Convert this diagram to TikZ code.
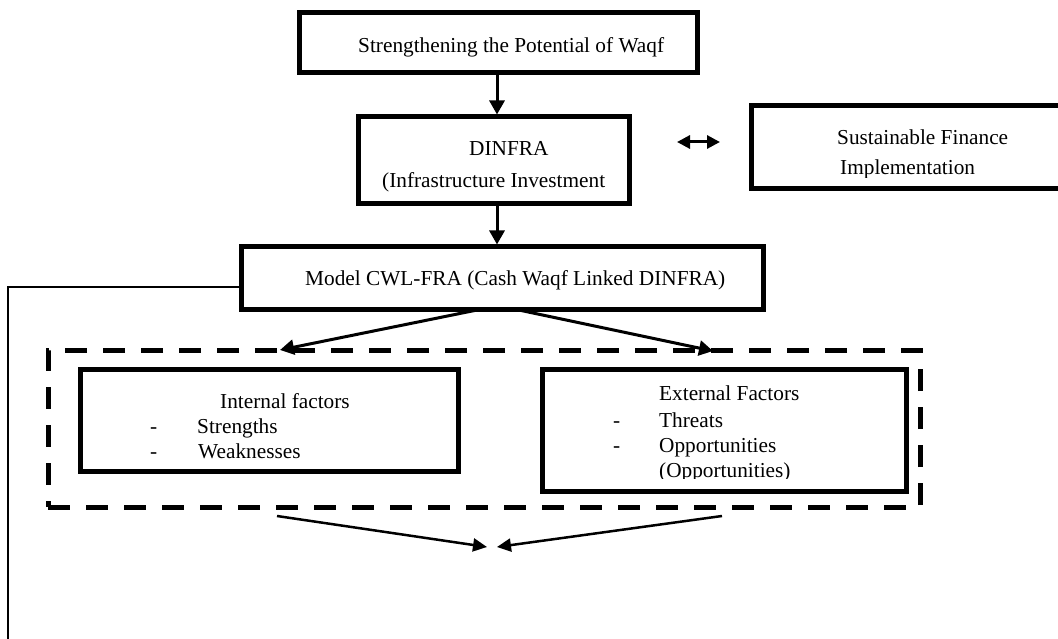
\documentclass[tikz,border=0pt]{standalone}
\usepackage{fontspec}
\setmainfont{Liberation Serif}
\usetikzlibrary{arrows.meta}
\begin{document}
\begin{tikzpicture}[x=1pt,y=-1pt,
  box/.style={draw,line width=5pt,inner sep=0pt,rectangle},
  lbl/.style={inner sep=0pt,anchor=base west,font=\fontsize{21.3}{25}\selectfont},
  arr/.style={line width=3pt,-{Triangle[length=14pt,width=15pt]}},
  thinarr/.style={line width=2.5pt,-{Triangle[length=14pt,width=13pt]}},
  grp/.style={draw,line width=5pt,dash pattern=on 22pt off 16pt,inner sep=0pt,rectangle}]
\useasboundingbox (0,0) rectangle (1058,639);
\clip (0,0) rectangle (1058,639);
% boxes
\node[box,minimum width=398pt,minimum height=60pt] (b1) at (498,43) {};
\node[lbl] (t1) at (358,53) {Strengthening the Potential of Waqf};

\node[box,minimum width=271pt,minimum height=87pt] (b2) at (493.5,160.5) {};
\node[lbl] (t2a) at (469,156) {DINFRA};
\node[lbl] (t2b) at (382,188) {(Infrastructure Investment};

\node[box,minimum width=340pt,minimum height=83pt] (b3) at (921,147.5) {};
\node[lbl] (t3a) at (837,145) {Sustainable Finance};
\begin{scope}
\clip (760,150) rectangle (1040,178);
\node[lbl] (t3b) at (840,175) {Implementation};
\end{scope}

\node[box,minimum width=522pt,minimum height=62pt] (b4) at (502,278) {};
\node[lbl] (t4) at (305,286) {Model CWL-FRA (Cash Waqf Linked DINFRA)};

\node[grp,minimum width=872pt,minimum height=157pt] (g) at (484,428.5) {};

\node[box,minimum width=378pt,minimum height=102pt] (b5) at (269,420) {};
\node[lbl] (t5) at (220,408) {Internal factors};
\node[lbl] (t5a) at (150,433) {-};
\node[lbl] (t5b) at (197,433) {Strengths};
\node[lbl] (t5c) at (150,458) {-};
\node[lbl] (t5d) at (198,458) {Weaknesses};

\node[box,minimum width=364pt,minimum height=122pt] (b6) at (724,430) {};
\node[lbl] (t6) at (659,400) {External Factors};
\node[lbl] (t6a) at (613,427) {-};
\node[lbl] (t6b) at (659,427) {Threats};
\node[lbl] (t6c) at (613,452) {-};
\node[lbl] (t6d) at (659,452) {Opportunities};
\begin{scope}
\clip (600,460) rectangle (900,478.5);
\node[lbl] (t6e) at (659,477) {(Opportunities)};
\end{scope}

% connectors
\coordinate (ax) at (497,0);
\draw[arr] (b1.south -| ax) -- (b2.north -| ax);
\draw[arr] (b2.south -| ax) -- (b4.north -| ax);

\coordinate (da) at (677,142);
\coordinate (db) at (720,142);
\draw[line width=3pt,{Triangle[length=13pt,width=13pt]}-{Triangle[length=13pt,width=13pt]}] (da) -- (db);

\coordinate (m1) at (482,309);
\coordinate (m2) at (514,309);
\coordinate (e1) at (280,350);
\coordinate (e2) at (713,351);
\draw[arr] (m1) -- (e1);
\draw[arr] (m2) -- (e2);

\coordinate (c1) at (8,287);
\coordinate (c2) at (8,639);
\draw[line width=2pt] (b4.west |- c1) -- (c1) -- (c2);

\coordinate (f1) at (277,516);
\coordinate (f2) at (487,547);
\coordinate (h1) at (722,516);
\coordinate (h2) at (497,547);
\draw[thinarr] (f1) -- (f2);
\draw[thinarr] (h1) -- (h2);
\end{tikzpicture}
\end{document}
